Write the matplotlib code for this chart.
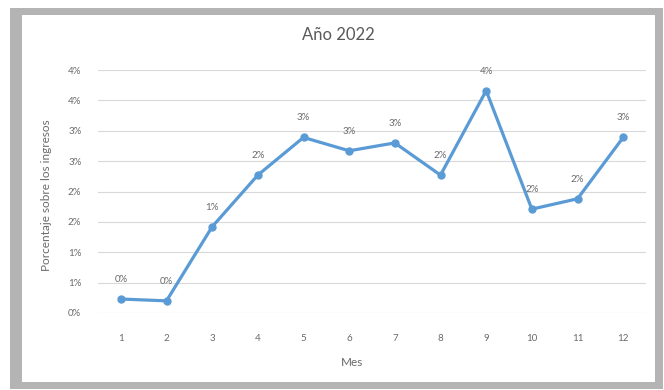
import matplotlib.pyplot as plt
from matplotlib.patches import Rectangle

# datos (porcentaje sobre los ingresos)
meses = ['1', '2', '3', '4', '5', '6', '7', '8', '9', '10', '11', '12']
porcentaje = [0.23, 0.20, 1.42, 2.27, 2.89, 2.67, 2.80, 2.27, 3.66, 1.71, 1.88, 2.89]
etiquetas = ['0%', '0%', '1%', '2%', '3%', '3%', '3%', '2%', '4%', '2%', '2%', '3%']
y_ticks = [0, 0.5, 1.0, 1.5, 2.0, 2.5, 3.0, 3.5, 4.0]
y_labels = ['0%', '1%', '1%', '2%', '2%', '3%', '3%', '4%', '4%']

W, H = 664, 390
plt.rcParams['font.family'] = ['Lato', 'DejaVu Sans']
gris = '#6a6a6a'
azul = '#5B9BD5'

fig = plt.figure(figsize=(W / 100, H / 100), dpi=100)
fig.patch.set_facecolor('white')

# marco gris alrededor del gráfico
fig.add_artist(Rectangle((10 / W, 1 - 389 / H), 653 / W, 381 / H,
                         transform=fig.transFigure, facecolor='#b4b4b4',
                         edgecolor='none', zorder=-2))
fig.add_artist(Rectangle((22 / W, 1 - 382 / H), 633 / W, 367 / H,
                         transform=fig.transFigure, facecolor='white',
                         edgecolor='none', zorder=-1))

ax = fig.add_axes([98 / W, 1 - 313 / H, 548 / W, 243 / H])
ax.set_facecolor('none')

x = list(range(len(meses)))
ax.plot(x, porcentaje, color=azul, lw=2.3, marker='o', ms=5, zorder=3)
for xi, yi, lab in zip(x, porcentaje, etiquetas):
    ax.annotate(lab, (xi, yi), xytext=(0, 14), textcoords='offset points',
                ha='center', va='center', fontsize=7, color=gris)

ax.set_xlim(-0.5, len(meses) - 0.5)
ax.set_ylim(0, 4.0)
ax.set_xticks(x)
ax.set_xticklabels(meses)
ax.set_yticks(y_ticks)
ax.set_yticklabels(y_labels)
ax.tick_params(axis='both', length=0, labelsize=7, labelcolor=gris)
ax.tick_params(axis='x', pad=15)
ax.tick_params(axis='y', pad=12)
ax.grid(axis='y', color='#d9d9d9', lw=0.8)
ax.set_axisbelow(True)
for s in ax.spines.values():
    s.set_visible(False)

fig.text(338 / W, 1 - 35 / H, 'Año 2022', ha='center', va='center',
         fontsize=12, color='#595959')
fig.text(352 / W, 1 - 362 / H, 'Mes', ha='center', va='center',
         fontsize=8.5, color=gris)
fig.text(47 / W, 1 - 195 / H, 'Porcentaje sobre los ingresos', ha='center',
         va='center', rotation=90, fontsize=8.5, color=gris)

fig.savefig('out.png', dpi=100)
